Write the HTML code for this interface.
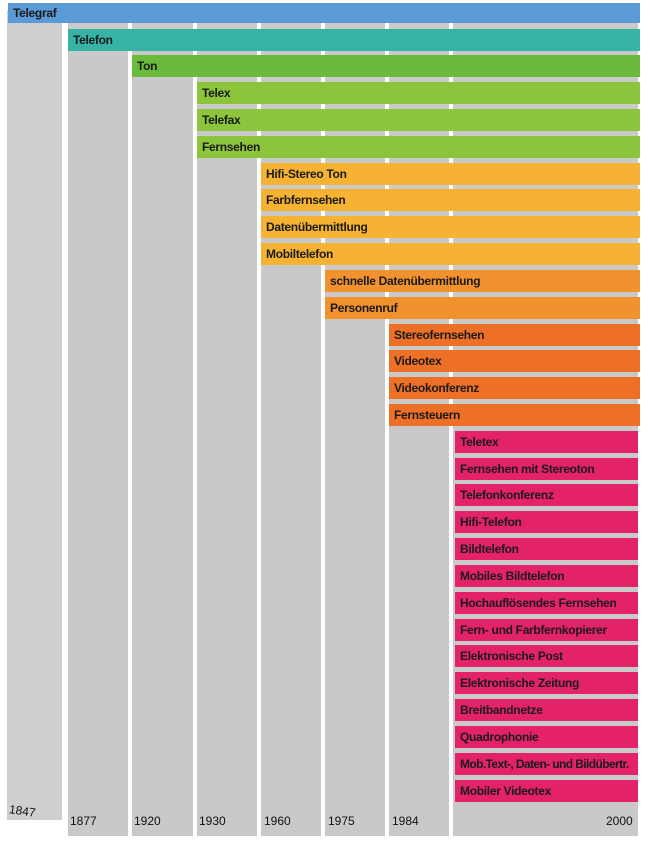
<!DOCTYPE html><html><head><style>
body{margin:0;width:650px;height:854px;background:#fff;position:relative;overflow:hidden;font-family:"Liberation Sans",sans-serif}
.c{position:absolute;background:#c9c9c9;top:10px;height:826px}
.b{position:absolute;height:22px;right:10px;font-size:12px;font-weight:bold;color:#1a1a1a;line-height:22px;padding-left:5px;box-sizing:border-box;letter-spacing:-0.3px;white-space:nowrap;overflow:hidden}
.y{position:absolute;top:814px;font-size:12px;color:#111}
</style></head><body>
<div class="c" style="left:7px;width:55px;top:10px;height:810px;background:#cfcfcf"></div>
<div class="c" style="left:68px;width:60px"></div>
<div class="c" style="left:132px;width:61px"></div>
<div class="c" style="left:197px;width:60px"></div>
<div class="c" style="left:261px;width:60px"></div>
<div class="c" style="left:325px;width:60px"></div>
<div class="c" style="left:389px;width:60px"></div>
<div class="c" style="left:453px;width:185px"></div>
<div class="b" style="left:8px;top:3px;height:20px;right:10px;background:#5a9ad6;line-height:20px">Telegraf</div>
<div id="bars"></div>
<div class="y" style="left:9px;top:804px;transform:rotate(8deg)">1847</div>
<div class="y" style="left:70px">1877</div>
<div class="y" style="left:134px">1920</div>
<div class="y" style="left:199px">1930</div>
<div class="y" style="left:264px">1960</div>
<div class="y" style="left:328px">1975</div>
<div class="y" style="left:392px">1984</div>
<div class="y" style="left:606px">2000</div>
<script>
var d=[["Telefon",68,"#37b3a6"],["Ton",132,"#6abb3c"],["Telex",197,"#8cc43c"],["Telefax",197,"#8cc43c"],["Fernsehen",197,"#8cc43c"],
["Hifi-Stereo Ton",261,"#f6b232"],["Farbfernsehen",261,"#f6b232"],["Datenübermittlung",261,"#f6b232"],["Mobiltelefon",261,"#f6b232"],
["schnelle Datenübermittlung",325,"#f2922f"],["Personenruf",325,"#f2922f"],
["Stereofernsehen",389,"#ee7026"],["Videotex",389,"#ee7026"],["Videokonferenz",389,"#ee7026"],["Fernsteuern",389,"#ee7026"],
["Teletex",455,"#e4226a"],["Fernsehen mit Stereoton",455,"#e4226a"],["Telefonkonferenz",455,"#e4226a"],["Hifi-Telefon",455,"#e4226a"],["Bildtelefon",455,"#e4226a"],["Mobiles Bildtelefon",455,"#e4226a"],["Hochauflösendes Fernsehen",455,"#e4226a"],["Fern- und Farbfernkopierer",455,"#e4226a"],["Elektronische Post",455,"#e4226a"],["Elektronische Zeitung",455,"#e4226a"],["Breitbandnetze",455,"#e4226a"],["Quadrophonie",455,"#e4226a"],["Mob.Text-, Daten- und Bildübertr.",455,"#e4226a"],["Mobiler Videotex",455,"#e4226a"]];
var h="";d.forEach(function(e,i){h+='<div class="b" style="left:'+e[1]+'px;top:'+(28.5+26.82*i).toFixed(1)+'px;background:'+e[2]+';'+(i>=15?'right:12px;':'')+(i==27?'letter-spacing:-0.6px;':'')+'">'+e[0]+'</div>'});
document.getElementById("bars").innerHTML=h;
</script>
</body></html>
